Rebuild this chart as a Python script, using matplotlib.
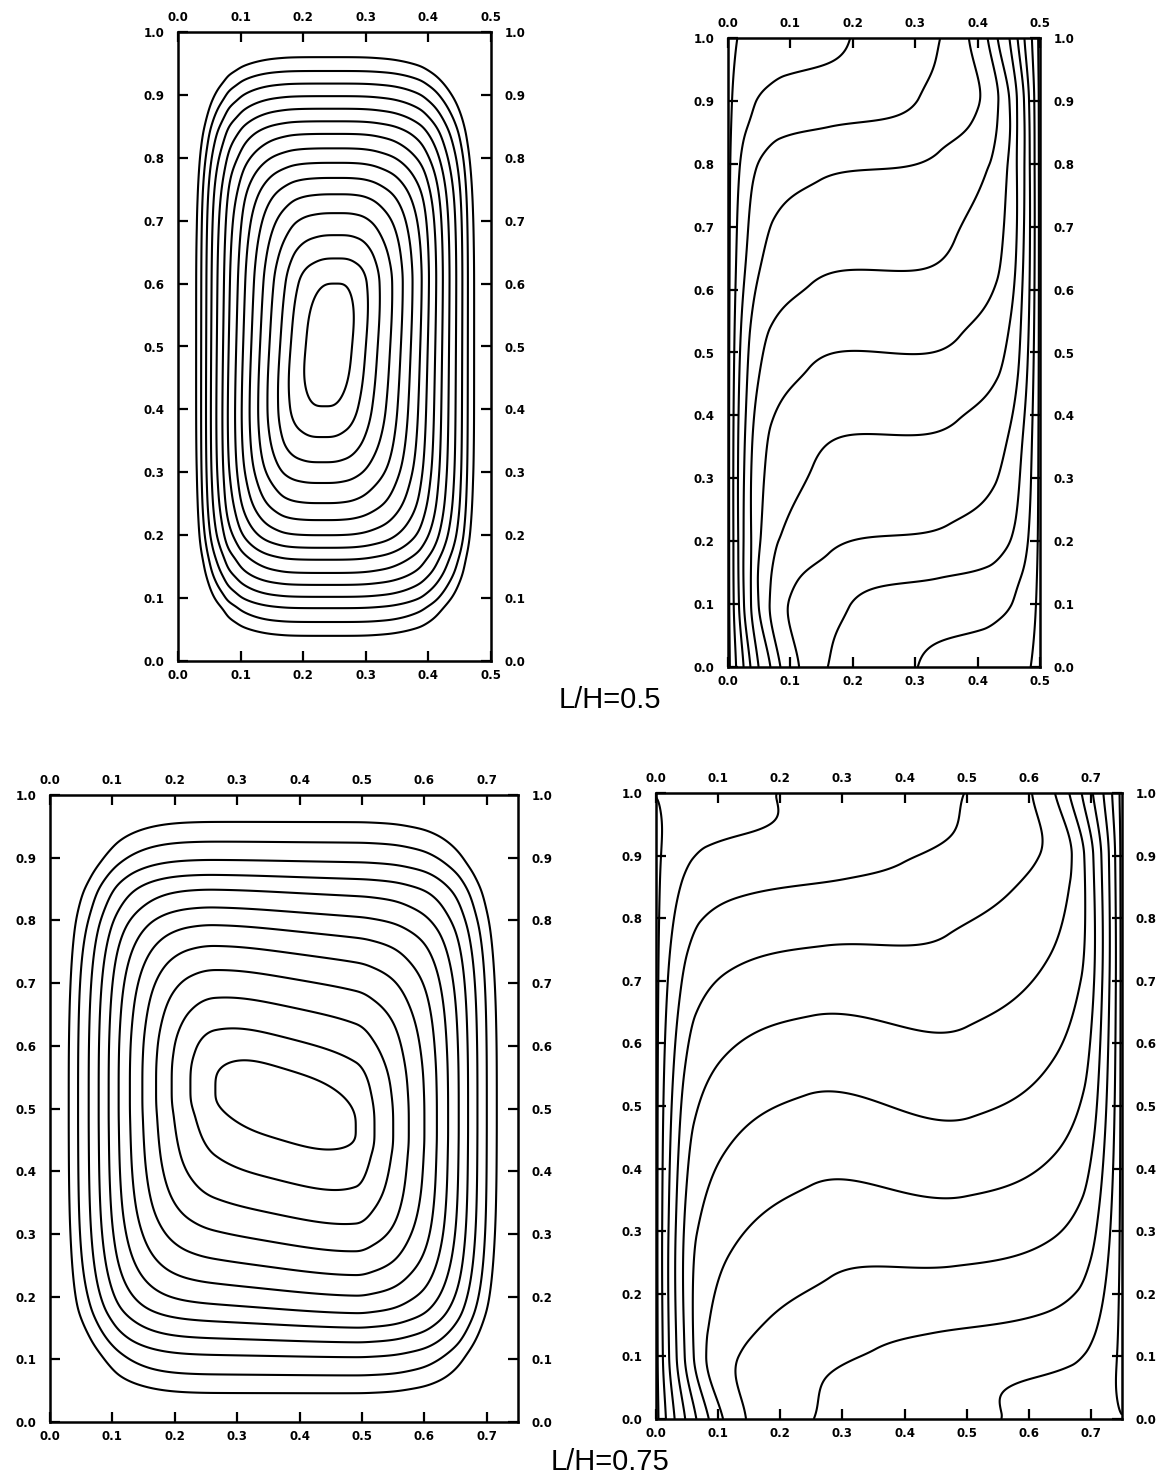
import numpy as np
import matplotlib
matplotlib.use("Agg")
import matplotlib.pyplot as plt

# ------------------------------------------------------------------ data
width_a = 0.5          # L/H = 0.5 cavity
width_b = 0.75         # L/H = 0.75 cavity

# Stream-function contours (outer -> inner): crossings of the line through the
# vortex centre
psi_a_centre = [0.243, 0.50]
psi_a_left = [0.029, 0.037, 0.045, 0.053, 0.062, 0.072, 0.081, 0.093, 0.104,
              0.117, 0.131, 0.146, 0.163, 0.180, 0.204]
psi_a_right = [0.473, 0.463, 0.454, 0.444, 0.433, 0.422, 0.411, 0.399, 0.387,
               0.372, 0.356, 0.339, 0.319, 0.300, 0.278]
psi_a_bottom = [0.040, 0.062, 0.084, 0.102, 0.121, 0.140, 0.161, 0.180, 0.200,
                0.224, 0.251, 0.283, 0.316, 0.356, 0.405]
psi_a_top = [0.960, 0.938, 0.918, 0.898, 0.878, 0.858, 0.838, 0.815, 0.792,
             0.768, 0.742, 0.712, 0.677, 0.640, 0.600]
psi_a_shear = [0.10, 0.0]

psi_b_centre = [0.37, 0.50]
psi_b_left = [0.030, 0.045, 0.062, 0.078, 0.094, 0.110, 0.128, 0.148, 0.170,
              0.195, 0.225, 0.265]
psi_b_right = [0.716, 0.700, 0.685, 0.670, 0.655, 0.638, 0.620, 0.600, 0.575,
               0.550, 0.520, 0.490]
psi_b_bottom = [0.046, 0.075, 0.105, 0.130, 0.155, 0.180, 0.210, 0.245, 0.285,
                0.330, 0.385, 0.450]
psi_b_top = [0.957, 0.925, 0.895, 0.870, 0.845, 0.815, 0.785, 0.750, 0.710,
             0.665, 0.615, 0.565]
psi_b_shear = [0.0, 0.35]

# Isotherms
theta_core_levels = [0.1, 0.2, 0.3, 0.4, 0.5, 0.6, 0.7, 0.8, 0.9]
theta_wall_levels = [0.015, 0.985]
theta_floor_levels = [0.1, 0.2, 0.3, 0.4, 0.5, 0.6, 0.7, 0.8, 0.9, 0.985]
theta_floor_core = 0.05

theta_a_plateau = [0.045, 0.135, 0.21, 0.37, 0.50, 0.63, 0.79, 0.865, 0.955]
theta_a_floor = [0.307, 0.160, 0.114, 0.084, 0.068, 0.049, 0.036, 0.025, 0.013, 0.003]
theta_a_wave = 0.01

theta_b_plateau = [0.06, 0.145, 0.25, 0.37, 0.50, 0.63, 0.75, 0.855, 0.94]
theta_b_floor = [0.577, 0.255, 0.145, 0.108, 0.085, 0.065, 0.047, 0.030, 0.016, 0.004]
theta_b_wave = 0.06

layer_heights = [0.0, 0.1, 0.3, 0.5, 0.7, 0.9, 1.0]
layer_scale = [1.0, 0.63, 0.45, 0.42, 0.45, 0.55, 0.6]

tick_y = [0.0, 0.1, 0.2, 0.3, 0.4, 0.5, 0.6, 0.7, 0.8, 0.9, 1.0]
tick_x_a = [0.0, 0.1, 0.2, 0.3, 0.4, 0.5]
tick_x_b = [0.0, 0.1, 0.2, 0.3, 0.4, 0.5, 0.6, 0.7]
captions = ["L/H=0.5", "L/H=0.75"]


# ------------------------------------------------------------------ helpers
def pchip_setup(xn, yn):
    xn = np.asarray(xn, float)
    yn = np.asarray(yn, float)
    h = np.diff(xn)
    d = np.diff(yn) / h
    m = np.zeros_like(yn)
    m[0] = d[0]
    m[-1] = d[-1]
    for k in range(1, len(xn) - 1):
        if d[k - 1] * d[k] > 0:
            w1 = 2 * h[k] + h[k - 1]
            w2 = h[k] + 2 * h[k - 1]
            m[k] = (w1 + w2) / (w1 / d[k - 1] + w2 / d[k])
    return xn, yn, h, m


def pchip(xn, yn, x):
    xn, yn, h, m = pchip_setup(xn, yn)
    x = np.clip(x, xn[0], xn[-1])
    i = np.clip(np.searchsorted(xn, x) - 1, 0, len(xn) - 2)
    t = (x - xn[i]) / h[i]
    h00 = 2 * t**3 - 3 * t**2 + 1
    h10 = t**3 - 2 * t**2 + t
    h01 = -2 * t**3 + 3 * t**2
    h11 = t**3 - t**2
    return h00 * yn[i] + h10 * h[i] * m[i] + h01 * yn[i + 1] + h11 * h[i] * m[i + 1]


def index_profile(lo, hi, centre, length):
    n = len(lo)
    lev = list(np.arange(1, n + 1) / (n + 1))
    nodes = [0.0] + list(lo) + [centre] + list(hi)[::-1] + [length]
    vals = [0.0] + lev + [1.0] + lev[::-1] + [0.0]
    return nodes, vals


def psi_field(X, Y, L, centre, left, right, bottom, top, shear, p_in=1.9, p_out=2.9):
    xn, xv = index_profile(left, right, centre[0], L)
    yn, yv = index_profile(bottom, top, centre[1], 1.0)
    u0 = pchip(xn, xv, X)
    v0 = pchip(yn, yv, Y)
    w = (u0 * v0) ** 2
    Xs = X - shear[0] * (Y - centre[1]) * w
    Ys = Y + shear[1] * (X - centre[0]) * w
    u = pchip(xn, xv, Xs)
    v = pchip(yn, yv, Ys)
    p = p_in + (p_out - p_in) * (1 - u * v)
    s = 1 - ((1 - u) ** p + (1 - v) ** p) ** (1 / p)
    levels = np.arange(1, len(left) + 1) / (len(left) + 1)
    return s, levels


def theta_field(X, Y, L, plateau, floor_x, wave):
    Tc0 = theta_floor_core
    yn = [0.0] + list(plateau) + [1.0]
    tn = [Tc0] + list(theta_core_levels) + [1 - Tc0]
    a = wave * np.sin(np.pi * Y) ** 2
    Yc = np.clip(Y - a * np.sin(2 * np.pi * X / L), 0, 1)
    Tc = pchip(yn, tn, Yc)

    xs = np.asarray(floor_x, float)
    ps = (np.asarray(theta_floor_levels, float) - Tc0) / (1 - Tc0)
    order = np.argsort(xs)
    xin = np.concatenate([[0.0], xs[order]])
    phn = np.concatenate([[1.0], ps[order]])
    _, _, _, mslope = pchip_setup(xin, phn)
    tau = phn[-1] / abs(mslope[-1])

    def phi(xi):
        xi = np.maximum(xi, 0)
        inner = pchip(xin, phn, np.minimum(xi, xin[-1]))
        tail = phn[-1] * np.exp(-(xi - xin[-1]) / tau)
        return np.where(xi > xin[-1], tail, inner)

    dh = pchip(layer_heights, layer_scale, Y)
    dc = pchip(layer_heights, layer_scale, 1 - Y)
    return Tc + (1 - Tc) * phi(X / dh) - Tc * phi((L - X) / dc)


def style(ax, L, xt):
    ax.set_xlim(0, L)
    ax.set_ylim(0, 1)
    ax.set_xticks(xt)
    ax.set_yticks(tick_y)
    ax.set_xticklabels([f"{t:.1f}" for t in xt])
    ax.set_yticklabels([f"{t:.1f}" for t in tick_y])
    ax.tick_params(direction='in', length=7, width=1.6, top=True, right=True,
                   labeltop=True, labelright=True, labelsize=8.5)
    ax.tick_params(axis='x', pad=6)
    ax.tick_params(axis='y', pad=10)
    for s in ax.spines.values():
        s.set_linewidth(1.8)


# ------------------------------------------------------------------ figure
plt.rcParams['font.family'] = ['DejaVu Sans']
plt.rcParams['font.weight'] = 'bold'

fig = plt.figure(figsize=(11.66, 14.82), dpi=100)
W, H = 1166.0, 1482.0
ax_tl = fig.add_axes([178 / W, 1 - 661 / H, 313 / W, 629 / H])
ax_tr = fig.add_axes([728 / W, 1 - 667 / H, 312 / W, 629 / H])
ax_bl = fig.add_axes([50 / W, 1 - 1422 / H, 468 / W, 627 / H])
ax_br = fig.add_axes([656 / W, 1 - 1419 / H, 466 / W, 626 / H])

lw = 1.5
all_theta = sorted(theta_core_levels + theta_wall_levels)

# L/H = 0.5
xa = np.linspace(0, width_a, 401)
ya = np.linspace(0, 1, 801)
Xa, Ya = np.meshgrid(xa, ya)
s, lev = psi_field(Xa, Ya, width_a, psi_a_centre, psi_a_left, psi_a_right,
                   psi_a_bottom, psi_a_top, psi_a_shear)
ax_tl.contour(Xa, Ya, s, levels=lev, colors='black', linewidths=lw)
T = theta_field(Xa, Ya, width_a, theta_a_plateau, theta_a_floor, theta_a_wave)
ax_tr.contour(Xa, Ya, T, levels=all_theta, colors='black', linewidths=lw)

# L/H = 0.75
xb = np.linspace(0, width_b, 601)
yb = np.linspace(0, 1, 801)
Xb, Yb = np.meshgrid(xb, yb)
s, lev = psi_field(Xb, Yb, width_b, psi_b_centre, psi_b_left, psi_b_right,
                   psi_b_bottom, psi_b_top, psi_b_shear)
ax_bl.contour(Xb, Yb, s, levels=lev, colors='black', linewidths=lw)
T = theta_field(Xb, Yb, width_b, theta_b_plateau, theta_b_floor, theta_b_wave)
ax_br.contour(Xb, Yb, T, levels=all_theta, colors='black', linewidths=lw)

style(ax_tl, width_a, tick_x_a)
style(ax_tr, width_a, tick_x_a)
style(ax_bl, width_b, tick_x_b)
style(ax_br, width_b, tick_x_b)

fig.text(610 / W, 1 - 700 / H, captions[0], ha='center', va='center',
         fontsize=21, fontweight='normal', family='Liberation Sans')
fig.text(610 / W, 1 - 1462 / H, captions[1], ha='center', va='center',
         fontsize=21, fontweight='normal', family='Liberation Sans')

fig.savefig("out.png", dpi=100)
